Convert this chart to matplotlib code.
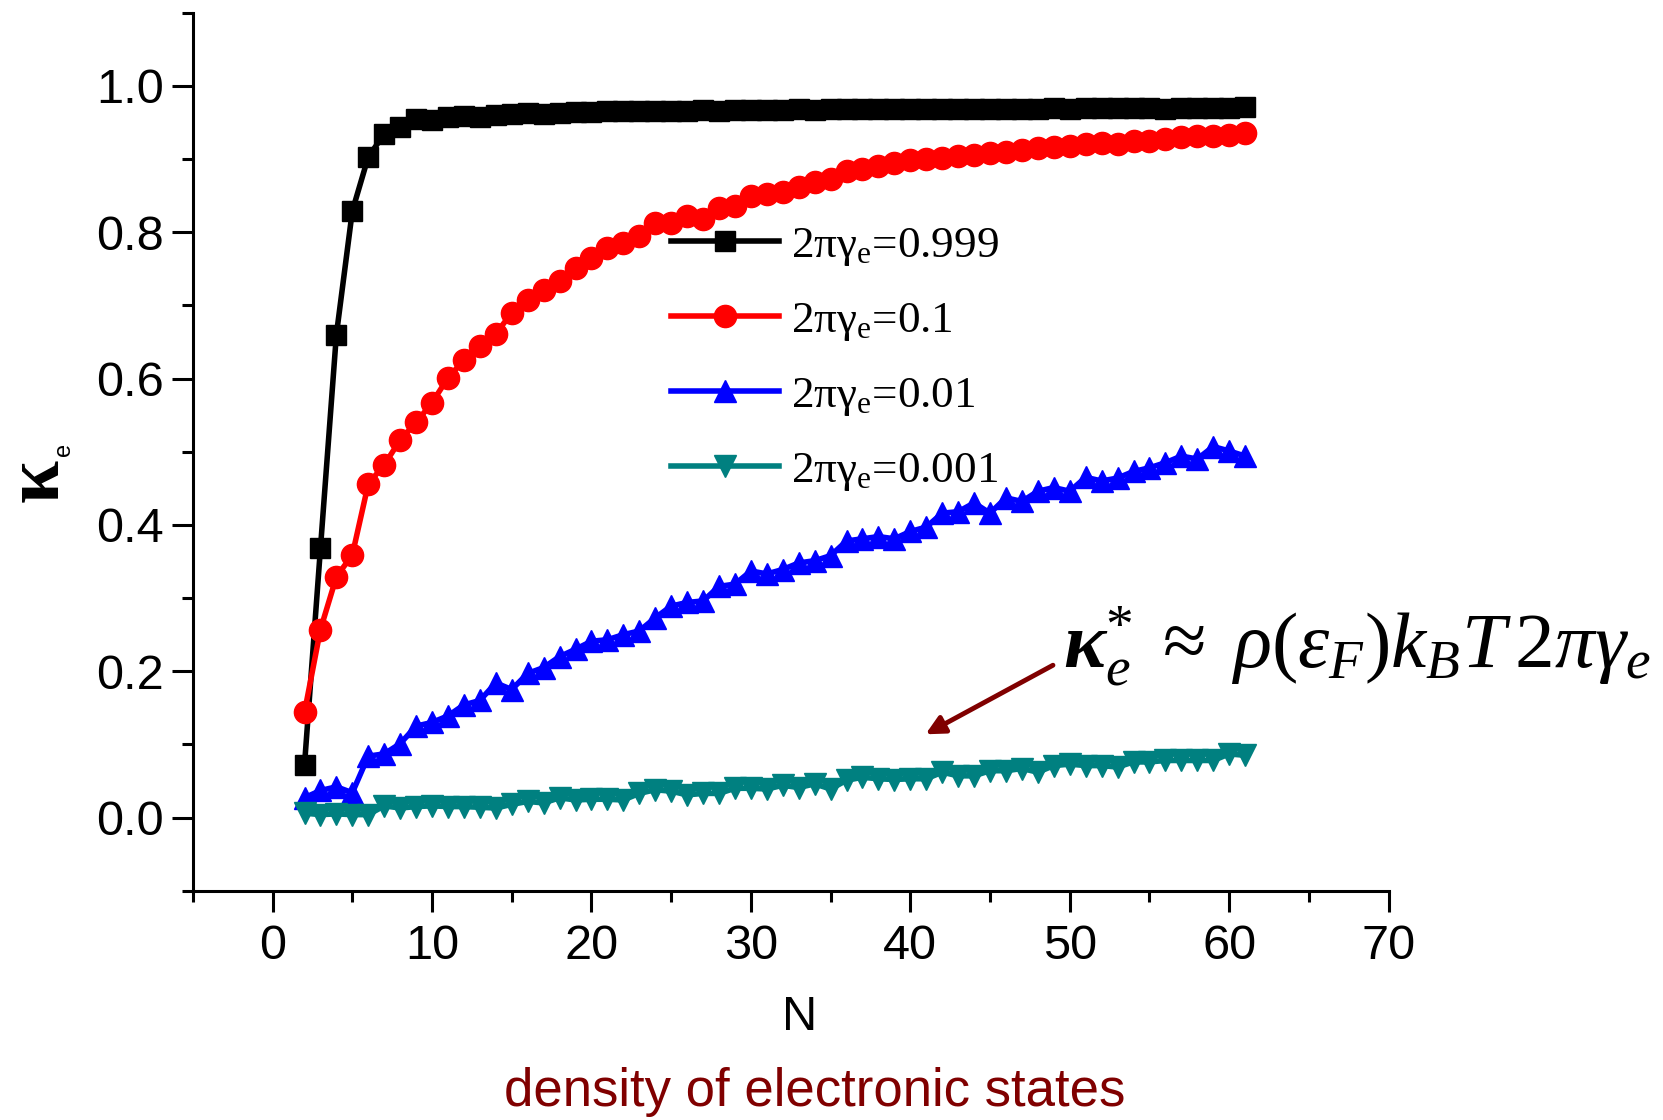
import matplotlib
matplotlib.use('Agg')
import matplotlib.pyplot as plt
from matplotlib.ticker import MultipleLocator

plt.rcParams['mathtext.fontset'] = 'custom'
plt.rcParams['mathtext.rm'] = 'Liberation Serif'
plt.rcParams['mathtext.it'] = 'Liberation Serif:italic'
plt.rcParams['mathtext.bf'] = 'Liberation Serif:bold'
plt.rcParams['mathtext.bfit'] = 'Liberation Serif:italic:bold'
plt.rcParams['mathtext.sf'] = 'Liberation Sans'

# datos, N = 2..61
N = list(range(2, 62))
k_0999 = [0.072, 0.368, 0.660, 0.829, 0.903, 0.934, 0.944, 0.955, 0.953, 0.957,
          0.959, 0.958, 0.960, 0.962, 0.963, 0.962, 0.963, 0.964, 0.964, 0.965,
          0.965, 0.965, 0.966, 0.966, 0.966, 0.967, 0.966, 0.967, 0.967, 0.967,
          0.967, 0.968, 0.967, 0.968, 0.968, 0.968, 0.968, 0.968, 0.969, 0.968,
          0.969, 0.969, 0.969, 0.969, 0.969, 0.969, 0.969, 0.970, 0.969, 0.970,
          0.970, 0.970, 0.970, 0.970, 0.969, 0.970, 0.970, 0.970, 0.970, 0.971]
k_01 = [0.144, 0.257, 0.329, 0.359, 0.456, 0.482, 0.516, 0.540, 0.567, 0.601,
        0.625, 0.644, 0.661, 0.690, 0.707, 0.721, 0.733, 0.751, 0.765, 0.779,
        0.785, 0.795, 0.813, 0.813, 0.822, 0.818, 0.833, 0.836, 0.849, 0.852,
        0.855, 0.862, 0.868, 0.873, 0.884, 0.887, 0.891, 0.895, 0.898, 0.900,
        0.902, 0.904, 0.906, 0.908, 0.910, 0.912, 0.915, 0.917, 0.918, 0.920,
        0.922, 0.921, 0.925, 0.925, 0.928, 0.930, 0.931, 0.932, 0.933, 0.935]
k_001 = [0.027, 0.037, 0.042, 0.034, 0.084, 0.087, 0.101, 0.125, 0.130, 0.139,
         0.154, 0.160, 0.184, 0.175, 0.197, 0.205, 0.220, 0.230, 0.241, 0.243,
         0.250, 0.255, 0.273, 0.289, 0.294, 0.296, 0.316, 0.319, 0.337, 0.333,
         0.339, 0.348, 0.351, 0.358, 0.378, 0.381, 0.384, 0.381, 0.391, 0.397,
         0.416, 0.418, 0.430, 0.416, 0.437, 0.432, 0.446, 0.451, 0.446, 0.465,
         0.460, 0.464, 0.473, 0.478, 0.485, 0.494, 0.490, 0.507, 0.501, 0.494]
k_0001 = [0.006, 0.004, 0.005, 0.004, 0.004, 0.016, 0.013, 0.015, 0.016, 0.015,
          0.015, 0.014, 0.013, 0.018, 0.022, 0.020, 0.027, 0.024, 0.025, 0.025,
          0.024, 0.033, 0.038, 0.036, 0.031, 0.033, 0.033, 0.040, 0.040, 0.039,
          0.044, 0.041, 0.046, 0.039, 0.051, 0.055, 0.053, 0.052, 0.053, 0.053,
          0.062, 0.057, 0.057, 0.064, 0.064, 0.067, 0.062, 0.071, 0.073, 0.071,
          0.071, 0.069, 0.076, 0.076, 0.078, 0.078, 0.078, 0.078, 0.087, 0.085]

etiquetas = [r'2πγ$_\mathrm{e}$=0.999', r'2πγ$_\mathrm{e}$=0.1',
             r'2πγ$_\mathrm{e}$=0.01', r'2πγ$_\mathrm{e}$=0.001']

fig = plt.figure(figsize=(16.63, 11.2), dpi=100)
ax = fig.add_axes([0.116, 0.2047, 0.719, 0.784])

ax.plot(N, k_0999, color='black', lw=4, marker='s', ms=14, label=etiquetas[0])
ax.plot(N, k_01, color='#FF0000', lw=4, marker='o', ms=16, label=etiquetas[1])
ax.plot(N, k_001, color='#0000FF', lw=4, marker='^', ms=16, label=etiquetas[2])
ax.plot(N, k_0001, color='#008080', lw=4, marker='v', ms=16, label=etiquetas[3])

ax.set_xlim(-5, 70)
ax.set_ylim(-0.1, 1.1)
ax.xaxis.set_major_locator(MultipleLocator(10))
ax.xaxis.set_minor_locator(MultipleLocator(5))
ax.yaxis.set_minor_locator(MultipleLocator(0.1))
ax.set_yticks([0.0, 0.2, 0.4, 0.6, 0.8, 1.0])
ax.set_yticklabels(['0.0', '0.2', '0.4', '0.6', '0.8', '1.0'])

for s in ['top', 'right']:
    ax.spines[s].set_visible(False)
for s in ['left', 'bottom']:
    ax.spines[s].set_linewidth(2.2)

ax.tick_params(which='major', direction='out', length=15, width=2.2)
ax.tick_params(which='minor', direction='out', length=8, width=2.2)
ax.tick_params(axis='x', which='major', pad=9, labelsize=35)
ax.tick_params(axis='y', which='major', pad=6, labelsize=35)
for t in ax.get_xticklabels() + ax.get_yticklabels():
    t.set_fontfamily('Liberation Sans')

fig.text(800 / 1663, 1 - 1018 / 1120, 'N', fontsize=35, family='Liberation Sans',
         ha='center', va='center')
fig.text(815 / 1663, 1 - 1092 / 1120, 'density of electronic states', fontsize=38,
         family='Liberation Sans', color='#800000', ha='center', va='center')
# etiqueta del eje y: kappa con subindice e
fig.text(39 / 1663, 1 - 480 / 1120, 'κ', fontsize=56, family='Liberation Serif',
         fontweight='bold', rotation=90, ha='center', va='center')
fig.text(64 / 1663, 1 - 449 / 1120, 'e', fontsize=17, family='Liberation Sans',
         rotation=90, ha='center', va='center')

leg = ax.legend(loc='upper left', bbox_to_anchor=(671 / 1663, 1 - 225 / 1120),
                bbox_transform=fig.transFigure, frameon=False, numpoints=1,
                handlelength=2.4, handletextpad=0.25, labelspacing=0.72,
                borderpad=0, borderaxespad=0,
                prop={'family': 'Liberation Serif', 'size': 32.5})

ax.annotate('', xy=(40.8, 0.112), xytext=(49.1, 0.210),
            arrowprops=dict(arrowstyle='-|>', color='#800000', lw=3.5,
                            mutation_scale=28))
ax.text(49.6, 0.205,
        r'$\mathbfit{\kappa}_e^{*}\;\approx\;\rho(\varepsilon_F)k_BT\,2\pi\gamma_e$',
        fontsize=57, ha='left', va='baseline', clip_on=False)

fig.savefig('out.png', dpi=100)
